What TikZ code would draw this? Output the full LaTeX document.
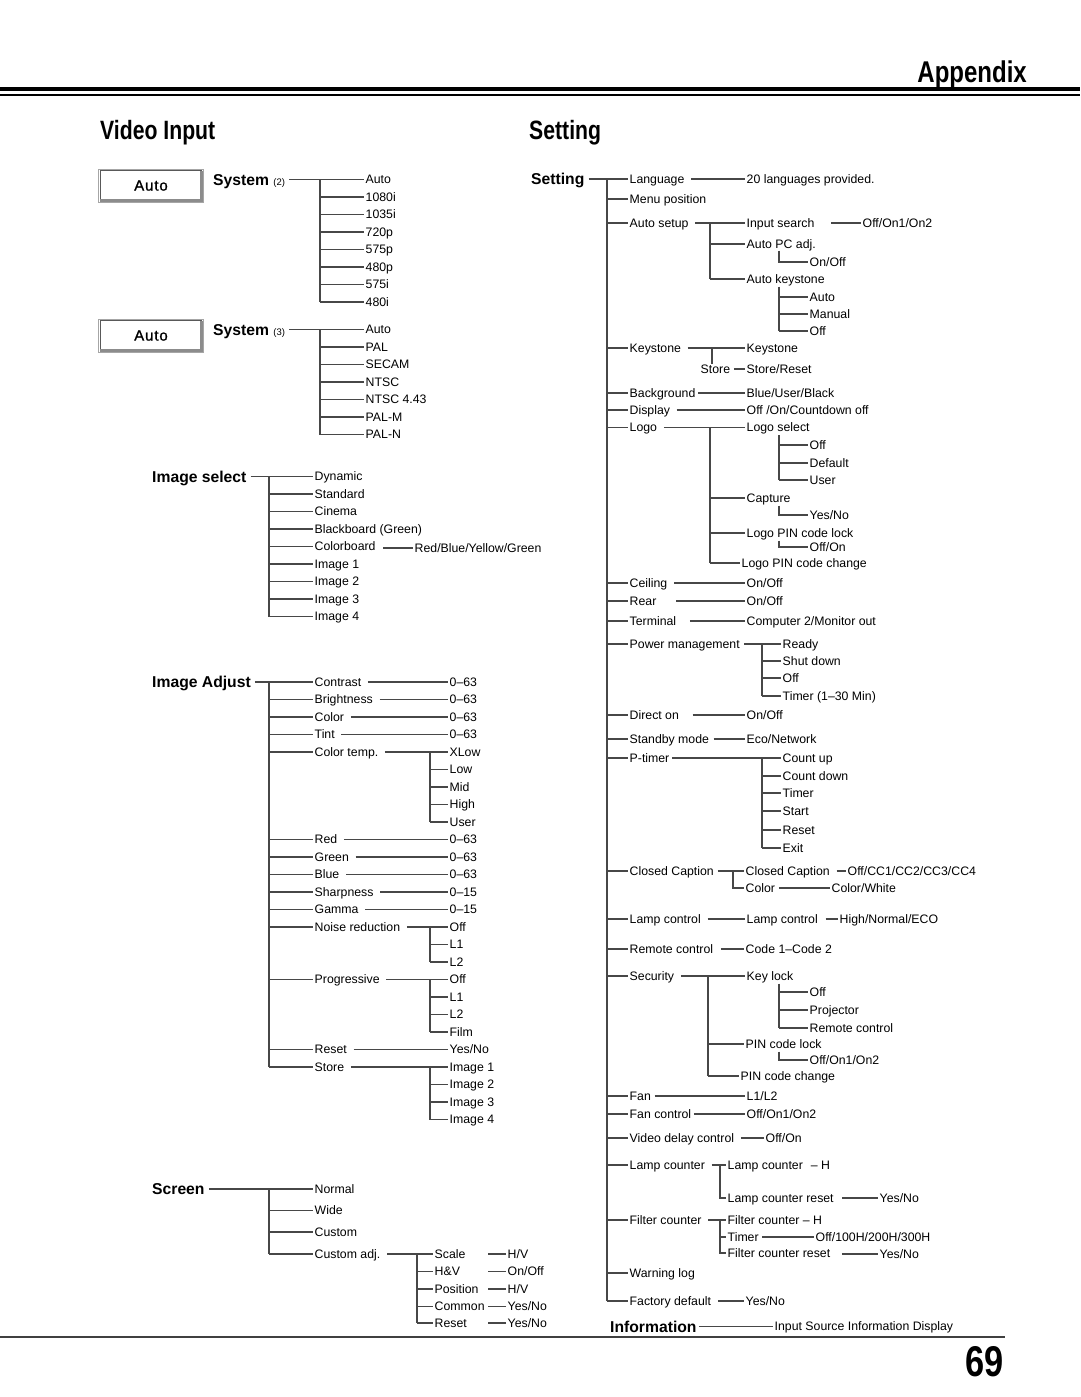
\documentclass[tikz,border=0pt]{standalone}
\usepackage{fontspec}
\setmainfont{Liberation Sans}
\newfontfamily\headfont[FakeStretch=0.8]{Liberation Sans Bold}
\newfontfamily\boxfont[LetterSpace=6,FakeBold=1.2]{Liberation Sans}
\begin{document}
\begin{tikzpicture}[x=1pt,y=-1pt]
\tikzset{
 ln/.style={draw=black!72, line width=1.1pt},
 sm/.style={anchor=west, inner xsep=1.5pt, inner ysep=0pt, text height=8.7pt, text depth=0pt, font=\fontsize{12.3}{14}\selectfont},
 bl/.style={anchor=west, inner xsep=1pt, inner ysep=0pt, text height=11.2pt, text depth=0pt, font=\fontsize{15.7}{18}\selectfont\bfseries},
 hd/.style={inner sep=0pt, font=\headfont\fontsize{26.5}{28}\selectfont},
 autobox/.style={draw=black!35, line width=1pt, fill=white, minimum width=105pt, minimum height=33pt, inner sep=0pt, font=\boxfont\fontsize{15}{15}\selectfont},
 shadowln/.style={draw=black!45, line width=2.6pt},
 innerln/.style={draw=black!65, line width=0.8pt}
}
\fill[white] (0,0) rectangle (1080,1397);
\useasboundingbox (0,0) rectangle (1080,1397);

% ---------- header ----------
\node[hd, anchor=base east, font=\headfont\fontsize{30}{32}\selectfont] (tapp) at (1027,82) {Appendix};
\draw[black, line width=4pt] (0,89) -- (1080,89);
\draw[black, line width=1.3pt] (0,95) -- (1080,95);
\node[hd, anchor=base west] (tvi) at (100,139.5) {Video Input};
\node[hd, anchor=base west] (tset) at (529,139.5) {Setting};

% ---------- System (2) ----------
\node[autobox] (box1) at (151,185.5) {Auto};
\draw[innerln] ([xshift=-2.5pt,yshift=-2pt]box1.north east) -| ([xshift=2pt,yshift=2.5pt]box1.south west);
\draw[shadowln] ([xshift=-2.3pt,yshift=-2pt]box1.north east) |- ([xshift=2pt,yshift=2.3pt]box1.south west);
\node[bl] (sys2) at (212,179.5) {System {\fontsize{9.5}{10}\selectfont\mdseries (2)}};
\coordinate (s2v) at (320,179.5);
\foreach \t [count=\i] in {Auto,1080i,1035i,720p,575p,480p,575i,480i}
  \node[sm] (sa\i) at (364,{179.5+(\i-1)*17.5}) {\t};
\draw[ln] ([xshift=3pt]sys2.east) -- (sa1.west);
\draw[ln] (s2v) -- (s2v |- sa8.west);
\foreach \i in {2,...,8} \draw[ln] (s2v |- sa\i.west) -- (sa\i.west);

% ---------- System (3) ----------
\node[autobox] (box2) at (151,335.5) {Auto};
\draw[innerln] ([xshift=-2.5pt,yshift=-2pt]box2.north east) -| ([xshift=2pt,yshift=2.5pt]box2.south west);
\draw[shadowln] ([xshift=-2.3pt,yshift=-2pt]box2.north east) |- ([xshift=2pt,yshift=2.3pt]box2.south west);
\node[bl] (sys3) at (212,329.5) {System {\fontsize{9.5}{10}\selectfont\mdseries (3)}};
\coordinate (s3v) at (320,329.5);
\foreach \t [count=\i] in {Auto,PAL,SECAM,NTSC,NTSC 4.43,PAL-M,PAL-N}
  \node[sm] (sb\i) at (364,{329.5+(\i-1)*17.5}) {\t};
\draw[ln] ([xshift=3pt]sys3.east) -- (sb1.west);
\draw[ln] (s3v) -- (s3v |- sb7.west);
\foreach \i in {2,...,7} \draw[ln] (s3v |- sb\i.west) -- (sb\i.west);

% ---------- Image select ----------
\node[bl] (isel) at (151,476.5) {Image select};
\coordinate (isv) at (269,476.5);
\foreach \t [count=\i] in {Dynamic,Standard,Cinema,Blackboard (Green),Colorboard,Image 1,Image 2,Image 3,Image 4}
  \node[sm] (is\i) at (313,{476.5+(\i-1)*17.5}) {\t};
\draw[ln] ([xshift=3pt]isel.east) -- (is1.west);
\draw[ln] (isv) -- (isv |- is9.west);
\foreach \i in {2,...,9} \draw[ln] (isv |- is\i.west) -- (is\i.west);
\node[sm] (rbyg) at (413,548) {Red/Blue/Yellow/Green};
\draw[ln] ([xshift=6pt]is5.east |- rbyg.west) -- (rbyg.west);

% ---------- Image Adjust ----------
\node[bl] (iadj) at (151,682) {Image Adjust};
\coordinate (iav) at (269,682);
\foreach \k/\t in {0/Contrast,1/Brightness,2/Color,3/Tint,4/Color temp.,9/Red,10/Green,11/Blue,12/Sharpness,13/Gamma,14/Noise reduction,17/Progressive,21/Reset,22/Store}
  \node[sm] (ia\k) at (313,{682+\k*17.5}) {\t};
\foreach \k/\t in {0/0–63,1/0–63,2/0–63,3/0–63,4/XLow,5/Low,6/Mid,7/High,8/User,9/0–63,10/0–63,11/0–63,12/0–15,13/0–15,14/Off,15/L1,16/L2,17/Off,18/L1,19/L2,20/Film,22/Image 1,23/Image 2,24/Image 3,25/Image 4}
  \node[sm] (iv\k) at (448,{682+\k*17.5}) {\t};
\node[sm] (iv21) at (448,{682+21*17.5}) {Yes/No};
\draw[ln] ([xshift=3pt]iadj.east) -- (ia0.west);
\draw[ln] (iav) -- (iav |- ia22.west);
\foreach \k in {1,2,3,4,9,10,11,12,13,14,17,21,22} \draw[ln] (iav |- ia\k.west) -- (ia\k.west);
\foreach \k in {0,1,2,3,9,10,11,12,13,21,4,14,17,22} \draw[ln] ([xshift=5pt]ia\k.east) -- (iv\k.west);
\coordinate (x430) at (430,0);
\foreach \a/\b in {4/8,14/16,17/20,22/25} {
  \draw[ln] (x430 |- iv\a.west) -- (x430 |- iv\b.west);
}
\foreach \k in {5,6,7,8,15,16,18,19,20,23,24,25} \draw[ln] (x430 |- iv\k.west) -- (iv\k.west);

% ---------- Screen ----------
\node[bl] (scr) at (151,1189) {Screen};
\coordinate (scv) at (269,1189);
\node[sm] (sc1) at (313,1189) {Normal};
\node[sm] (sc2) at (313,1210.5) {Wide};
\node[sm] (sc3) at (313,1232) {Custom};
\node[sm] (sc4) at (313,1254) {Custom adj.};
\draw[ln] ([xshift=3pt]scr.east) -- (sc1.west);
\draw[ln] (scv) -- (scv |- sc4.west);
\foreach \i in {2,3,4} \draw[ln] (scv |- sc\i.west) -- (sc\i.west);
\coordinate (cav) at (417,1254);
\node[sm] (ca1) at (433,1254) {Scale};
\node[sm] (ca2) at (433,1271.5) {H\&V};
\node[sm] (ca3) at (433,1289) {Position};
\node[sm] (ca4) at (433,1306.5) {Common};
\node[sm] (ca5) at (433,1323) {Reset};
\node[sm] (cv1) at (506,1254) {H/V};
\node[sm] (cv2) at (506,1271.5) {On/Off};
\node[sm] (cv3) at (506,1289) {H/V};
\node[sm] (cv4) at (506,1306.5) {Yes/No};
\node[sm] (cv5) at (506,1323) {Yes/No};
\draw[ln] ([xshift=5pt]sc4.east) -- (ca1.west);
\draw[ln] (cav) -- (cav |- ca5.west);
\foreach \i in {2,...,5} \draw[ln] (cav |- ca\i.west) -- (ca\i.west);
\foreach \i in {1,...,5} \draw[ln] (cv\i.west) -- ++(-18,0);

% ---------- Setting (right column) ----------
\node[bl] (sett) at (530,179) {Setting};
\coordinate (mv) at (607,179);
\foreach \i/\yy/\t in {1/179/Language,2/199/Menu position,3/223/Auto setup,4/348/Keystone,5/393/Background,6/410/Display,7/427.5/Logo,8/583/Ceiling,9/601/Rear,10/621/Terminal,11/644/Power management,12/715/Direct on,13/739/Standby mode,14/758/P-timer,15/871/Closed Caption,16/919/Lamp control,17/949/Remote control,18/976/Security,19/1096/Fan,20/1114/Fan control,21/1138/Video delay control,22/1165/Lamp counter,23/1220/Filter counter,24/1273/Warning log,25/1301/Factory default}
  \node[sm] (r\i) at (628,\yy) {\t};
\draw[ln] ([xshift=3pt]sett.east) -- (r1.west);
\draw[ln] (mv) -- (mv |- r25.west);
\foreach \i in {2,...,25} \draw[ln] (mv |- r\i.west) -- (r\i.west);

\coordinate (x779) at (779,0);
\coordinate (x762) at (762,0);

% Language
\node[sm] (q1) at (745,179) {20 languages provided.};
\draw[ln] ([xshift=5pt]r1.east) -- (q1.west);
% Auto setup
\coordinate (asv) at (710,223);
\node[sm] (q3a) at (745,223) {Input search};
\node[sm] (q3b) at (745,244) {Auto PC adj.};
\node[sm] (q3c) at (745,279) {Auto keystone};
\draw[ln] ([xshift=5pt]r3.east) -- (q3a.west);
\draw[ln] (asv) -- (asv |- q3c.west);
\draw[ln] (asv |- q3b.west) -- (q3b.west);
\draw[ln] (asv |- q3c.west) -- (q3c.west);
\node[sm] (q3av) at (861,223) {Off/On1/On2};
\draw[ln] ([xshift=15pt]q3a.east) -- (q3av.west);
\node[sm] (q3bv) at (808,262) {On/Off};
\draw[ln] ([yshift=-2pt]q3b.south -| x779) |- (q3bv.west);
\node[sm] (ak1) at (808,297) {Auto};
\node[sm] (ak2) at (808,314) {Manual};
\node[sm] (ak3) at (808,331) {Off};
\draw[ln] ([yshift=-3pt]q3c.south -| x779) -- (x779 |- ak3.west);
\foreach \i in {1,2,3} \draw[ln] (x779 |- ak\i.west) -- (ak\i.west);
% Keystone
\node[sm] (q4a) at (745,348) {Keystone};
\draw[ln] ([xshift=5pt]r4.east) -- (q4a.west);
\coordinate (ksv) at (712,348);
\node[sm] (q4s) at (699,369) {Store};
\draw[ln] (ksv) -- (ksv |- q4s.north);
\node[sm] (q4b) at (745,369) {Store/Reset};
\draw[ln] ([xshift=2pt]q4s.east) -- (q4b.west);
% Background, Display
\node[sm] (q5) at (745,393) {Blue/User/Black};
\draw[ln] ([xshift=1pt]r5.east) -- (q5.west);
\node[sm] (q6) at (745,410) {Off /On/Countdown off};
\draw[ln] ([xshift=5pt]r6.east) -- (q6.west);
% Logo
\coordinate (lgv) at (710,427.5);
\node[sm] (q7a) at (745,427.5) {Logo select};
\node[sm] (q7b) at (745,498) {Capture};
\node[sm] (q7c) at (745,533) {Logo PIN code lock};
\node[sm] (q7d) at (740,563) {Logo PIN code change};
\draw[ln] ([xshift=5pt]r7.east) -- (q7a.west);
\draw[ln] (lgv) -- (lgv |- q7d.west);
\foreach \n in {q7b,q7c,q7d} \draw[ln] (lgv |- \n.west) -- (\n.west);
\node[sm] (ls1) at (808,445) {Off};
\node[sm] (ls2) at (808,463) {Default};
\node[sm] (ls3) at (808,480) {User};
\draw[ln] ([yshift=-3pt]q7a.south -| x779) -- (x779 |- ls3.west);
\foreach \i in {1,2,3} \draw[ln] (x779 |- ls\i.west) -- (ls\i.west);
\node[sm] (q7bv) at (808,515) {Yes/No};
\draw[ln] ([yshift=-3pt]q7b.south -| x779) |- (q7bv.west);
\node[sm] (q7cv) at (808,547) {Off/On};
\draw[ln] ([yshift=-3pt]q7c.south -| x779) |- (q7cv.west);
% Ceiling, Rear, Terminal
\node[sm] (q8) at (745,583) {On/Off};
\draw[ln] ([xshift=5pt]r8.east) -- (q8.west);
\node[sm] (q9) at (745,601) {On/Off};
\draw[ln] ([xshift=18pt]r9.east) -- (q9.west);
\node[sm] (q10) at (745,621) {Computer 2/Monitor out};
\draw[ln] ([xshift=12pt]r10.east) -- (q10.west);
% Power management
\node[sm] (pm1) at (781,644) {Ready};
\node[sm] (pm2) at (781,661) {Shut down};
\node[sm] (pm3) at (781,678) {Off};
\node[sm] (pm4) at (781,696) {Timer (1–30 Min)};
\draw[ln] ([xshift=3pt]r11.east) -- (pm1.west);
\draw[ln] (x762 |- pm1.west) -- (x762 |- pm4.west);
\foreach \i in {2,3,4} \draw[ln] (x762 |- pm\i.west) -- (pm\i.west);
% Direct on, Standby
\node[sm] (q12) at (745,715) {On/Off};
\draw[ln] ([xshift=12pt]r12.east) -- (q12.west);
\node[sm] (q13) at (745,739) {Eco/Network};
\draw[ln] ([xshift=3pt]r13.east) -- (q13.west);
% P-timer
\node[sm] (pt1) at (781,758) {Count up};
\node[sm] (pt2) at (781,776) {Count down};
\node[sm] (pt3) at (781,793) {Timer};
\node[sm] (pt4) at (781,811) {Start};
\node[sm] (pt5) at (781,830) {Reset};
\node[sm] (pt6) at (781,848) {Exit};
\draw[ln] ([xshift=1pt]r14.east) -- (pt1.west);
\draw[ln] (x762 |- pt1.west) -- (x762 |- pt6.west);
\foreach \i in {2,...,6} \draw[ln] (x762 |- pt\i.west) -- (pt\i.west);
% Closed caption
\coordinate (ccv) at (733,871);
\node[sm] (cc1) at (744,871) {Closed Caption};
\node[sm] (cc2) at (744,888) {Color};
\draw[ln] ([xshift=2pt]r15.east) -- (cc1.west);
\draw[ln] (ccv) |- (cc2.west);
\node[sm] (cc1v) at (846,871) {Off/CC1/CC2/CC3/CC4};
\draw[ln] ([xshift=5pt]cc1.east) -- (cc1v.west);
\node[sm] (cc2v) at (830,888) {Color/White};
\draw[ln] ([xshift=2pt]cc2.east) -- (cc2v.west);
% Lamp control
\node[sm] (lc1) at (745,919) {Lamp control};
\draw[ln] ([xshift=5pt]r16.east) -- (lc1.west);
\node[sm] (lc1v) at (838,919) {High/Normal/ECO};
\draw[ln] ([xshift=6pt]lc1.east) -- (lc1v.west);
% Remote control
\node[sm] (q17) at (744,949) {Code 1–Code 2};
\draw[ln] ([xshift=6pt]r17.east) -- (q17.west);
% Security
\coordinate (sev) at (708,976);
\node[sm] (k1) at (745,976) {Key lock};
\node[sm] (k2) at (744,1044) {PIN code lock};
\node[sm] (k3) at (739,1076) {PIN code change};
\draw[ln] ([xshift=5pt]r18.east) -- (k1.west);
\draw[ln] (sev) -- (sev |- k3.west);
\foreach \n in {k2,k3} \draw[ln] (sev |- \n.west) -- (\n.west);
\node[sm] (kl1) at (808,992) {Off};
\node[sm] (kl2) at (808,1010) {Projector};
\node[sm] (kl3) at (808,1028) {Remote control};
\draw[ln] ([yshift=-3pt]k1.south -| x779) -- (x779 |- kl3.west);
\foreach \i in {1,2,3} \draw[ln] (x779 |- kl\i.west) -- (kl\i.west);
\node[sm] (k2v) at (808,1060) {Off/On1/On2};
\draw[ln] ([yshift=-3pt]k2.south -| x779) |- (k2v.west);
% Fan
\node[sm] (q19) at (745,1096) {L1/L2};
\draw[ln] ([xshift=2pt]r19.east) -- (q19.west);
\node[sm] (q20) at (745,1114) {Off/On1/On2};
\draw[ln] ([xshift=1pt]r20.east) -- (q20.west);
\node[sm] (q21) at (764,1138) {Off/On};
\draw[ln] ([xshift=5pt]r21.east) -- (q21.west);
% Lamp counter
\coordinate (lcv) at (720,1165);
\node[sm] (lct1) at (726,1165) {Lamp counter\hspace{8pt}– H};
\node[sm] (lct2) at (726,1198) {Lamp counter reset};
\draw[ln] ([xshift=5pt]r22.east) -- (lct1.west);
\draw[ln] (lcv) |- (lct2.west);
\node[sm] (lct2v) at (878,1198) {Yes/No};
\draw[ln] ([xshift=7pt]lct2.east) -- (lct2v.west);
% Filter counter
\coordinate (fcv) at (720,1220);
\node[sm] (f1) at (726,1220) {Filter counter – H};
\node[sm] (f2) at (726,1237) {Timer};
\node[sm] (f3) at (726,1253) {Filter counter reset};
\draw[ln] ([xshift=5pt]r23.east) -- (f1.west);
\draw[ln] (fcv) |- (f3.west);
\draw[ln] (fcv |- f2.west) -- (f2.west);
\node[sm] (f2v) at (814,1237) {Off/100H/200H/300H};
\draw[ln] ([xshift=2pt]f2.east) -- (f2v.west);
\node[sm] (f3v) at (878,1254) {Yes/No};
\draw[ln] ([xshift=10pt]f3.east |- f3v.west) -- (f3v.west);
% Factory default
\node[sm] (q25) at (744,1301) {Yes/No};
\draw[ln] ([xshift=5pt]r25.east) -- (q25.west);

% Information
\node[bl] (info) at (609,1326.5) {Information};
\node[sm] (isd) at (773,1326.5) {Input Source Information Display};
\draw[ln] ([xshift=1pt]info.east) -- (isd.west);

% footer
\draw[black!75, line width=1.5pt] (0,1337) -- (1005,1337);
\node[hd, anchor=base east, font=\headfont\fontsize{43}{45}\selectfont] (tpage) at (1004,1376) {69};
\end{tikzpicture}
\end{document}
